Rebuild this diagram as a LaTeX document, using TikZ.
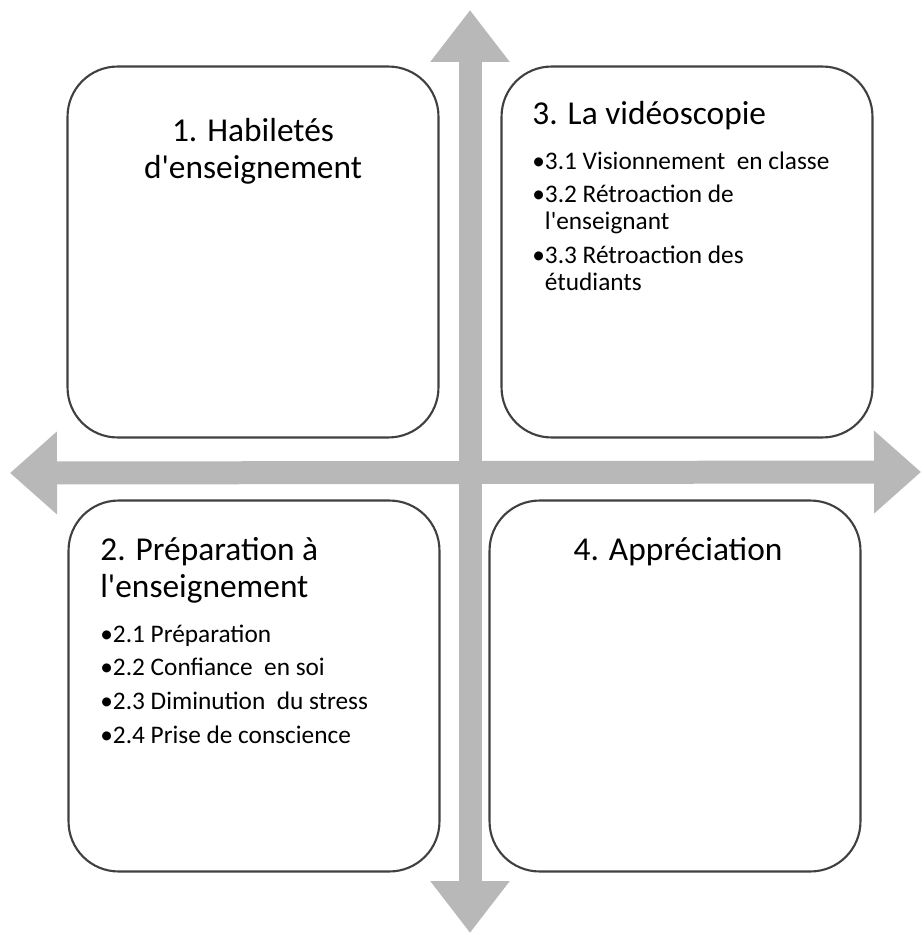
\documentclass[tikz,border=0pt]{standalone}
\usepackage{fontspec}
\setmainfont{Carlito}[Ligatures=TeXOff]
\usetikzlibrary{arrows.meta}

\begin{document}
\begin{tikzpicture}[x=0.02cm,y=-0.02cm]
    % Styles
    \tikzset{
      quad/.style={draw=black!75,line width=1.2pt,fill=white,rounded corners=1cm,
        minimum width=7.42cm,minimum height=7.42cm,inner sep=0pt},
      axisarrow/.style={draw=black!28,line width=0.46cm},
      qtitle/.style={anchor=base west,inner sep=0pt,font=\fontsize{19}{23}\selectfont},
      qitem/.style={anchor=base west,inner sep=0pt,font=\fontsize{14.4}{17}\selectfont}
    }
    \useasboundingbox (0,0) rectangle (923,935);

    % --- Axes: two double-headed arrows ---
    \coordinate (lft) at (10,473);
    \coordinate (rgt) at (921,472);
    \coordinate (top) at (470,10);
    \coordinate (bot) at (470,933);
    \draw[axisarrow,{Triangle[width=1.6cm,length=0.94cm]}-{Triangle[width=1.6cm,length=0.94cm]}] (lft) -- (rgt);
    \draw[axisarrow,{Triangle[width=1.52cm,length=1.04cm]}-{Triangle[width=1.52cm,length=1.04cm]}] (top) -- (bot);

    % --- Quadrants ---
    \node[quad] (hab) at (253,252) {};
    \node[quad] (video) at (687,252) {};
    \node[quad] (prep) at (254,686) {};
    \node[quad] (appr) at (675,686) {};

    % Quadrant 1
    \node[qtitle,anchor=base] (hab-t1) at (253,142) {1. Habiletés};
    \node[qtitle,anchor=base] (hab-t2) at (253,179) {d'enseignement};

    % Quadrant 3
    \node[qtitle] (video-t) at (532,125) {3. La vidéoscopie};
    \node[qitem] (video-1) at (532,170) {•3.1 Visionnement\ \ en classe};
    \node[qitem] (video-2) at (532,203) {•3.2 Rétroaction de};
    \node[qitem] (video-2b) at (532,230) {\phantom{•}l'enseignant};
    \node[qitem] (video-3) at (532,264) {•3.3 Rétroaction des};
    \node[qitem] (video-3b) at (532,291) {\phantom{•}étudiants};

    % Quadrant 2
    \node[qtitle] (prep-t1) at (100,560) {2. Préparation à};
    \node[qtitle] (prep-t2) at (100,597) {l'enseignement};
    \node[qitem] (prep-1) at (100,642) {•2.1 Préparation};
    \node[qitem] (prep-2) at (100,675) {•2.2 Confiance\ \ en soi};
    \node[qitem] (prep-3) at (100,709) {•2.3 Diminution\ \ du stress};
    \node[qitem] (prep-4) at (100,743) {•2.4 Prise de conscience};

    % Quadrant 4
    \node[qtitle,anchor=base] (appr-t) at (678,560) {4. Appréciation};

\end{tikzpicture}
\end{document}
